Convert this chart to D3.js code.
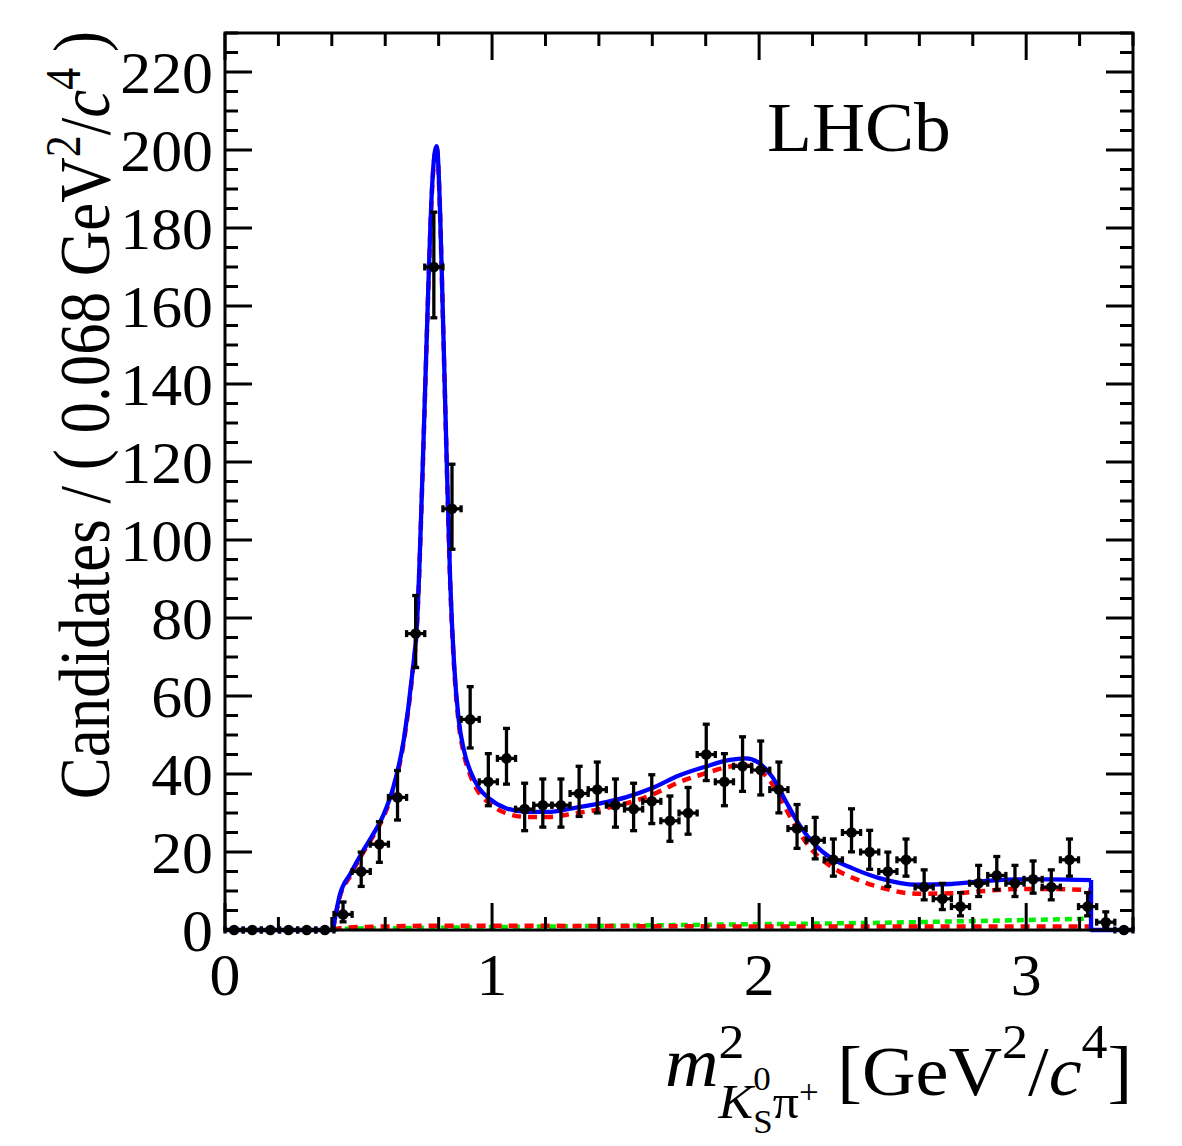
<!DOCTYPE html>
<html><head><meta charset="utf-8">
<script src="https://cdn.jsdelivr.net/npm/d3@7"></script>
<style>body{margin:0;background:#fff} svg{display:block}</style>
</head><body><svg id="c" width="1182" height="1146"></svg>
<script>
// ---- data ----
const binWidth = 0.068;
const counts = [0,0,0,0,0,0,4,15,22,34,76,170,108,54,38,44,31,32,32,35,36,32,31,33,28,30,45,38,42,41,36,26,23,18,25,20,15,18,11,8,6,12,14,12,13,11,18,6,2,0];

const fitX     = [0.404,0.43,0.47,0.51,0.55,0.59,0.63,0.67,0.70,0.72,0.74,0.76,0.775,0.787,0.793,0.805,0.815,0.828,0.843,0.858,0.875,0.895,0.92,0.95,0.99,1.05,1.13,1.22,1.30,1.40,1.50,1.60,1.70,1.80,1.89,1.95,2.00,2.05,2.10,2.15,2.20,2.28,2.35,2.45,2.59,2.72,2.84,2.97,3.09,3.243];
const totalFit = [0,9,14.5,19.5,24,29,36.5,49,65,80,118,162,190,200,201,185,160,126,90,68,54,46,40.5,36.5,33.7,31.3,30.3,30.3,31.2,32.4,34,36.4,39.6,41.9,43.6,44,42.8,39.2,33,27,22.5,18,15.8,13.3,11.6,11.8,12.5,13,13,12.8];
const signalFit= [0,8.5,14,19,23.5,28.5,36,48.5,64.5,79.5,117.5,161.5,189.5,199.5,200.5,184.5,159.5,125.5,89.3,67.2,53.1,45,39.4,35.3,32.5,30,29,29,29.8,30.9,32.4,34.7,37.9,40.2,41.9,42.2,41,37.4,31.1,25,20.4,15.8,13.4,11,9.3,9.4,10,10.5,10.5,10.2];

const bkgX     = [0.404,0.8,1.2,1.6,2.0,2.4,2.8,3.243];
const bkgGreen = [0.3,0.6,0.9,1.2,1.5,1.8,2.3,2.9];

const otherX   = [0.404,0.45,0.6,0.8,1.0,1.5,2.0,2.5,3.0,3.243];
const otherRed = [0,0.6,0.9,1.1,1.1,1.0,0.9,0.9,0.9,0.9];

const xMajorTicks = [0,1,2,3];
const yMajorTicks = [0,20,40,60,80,100,120,140,160,180,200,220];

// ---- layout ----
const svg = d3.select('#c');
const L = 225, R = 1133, T = 33, B = 930;
const x = d3.scaleLinear().domain([0,3.4]).range([L,R]);
const y = d3.scaleLinear().domain([0,230]).range([B,T]);
const font = '"Liberation Serif","Times New Roman",Times,serif';

// ---- curves ----
const smooth = d3.line().x(d=>x(d[0])).y(d=>y(d[1])).curve(d3.curveMonotoneX);
const straight = d3.line().x(d=>x(d[0])).y(d=>y(d[1]));

const plot = svg.append('g');
plot.append('path').attr('d', smooth(bkgX.map((v,i)=>[v,bkgGreen[i]])) )
  .attr('fill','none').attr('stroke','#00ee00').attr('stroke-width',4.5).attr('stroke-dasharray','7,5');
plot.append('path').attr('d', smooth(otherX.map((v,i)=>[v,otherRed[i]])) )
  .attr('fill','none').attr('stroke','#ff0000').attr('stroke-width',4.5).attr('stroke-dasharray','9,7');
const sigPts = fitX.map((v,i)=>[v,signalFit[i]]);
plot.append('path').attr('d', smooth(sigPts))
  .attr('fill','none').attr('stroke','#ff0000').attr('stroke-width',4.5).attr('stroke-dasharray','9,7');
const totPts = fitX.map((v,i)=>[v,totalFit[i]]);
const lastX = fitX[fitX.length-1], lastY = totalFit[totalFit.length-1];
const bluePath = straight([[0,0],[fitX[0],0]]) + smooth(totPts) + straight([[lastX,lastY],[lastX,0],[3.4,0]]);
plot.append('path').attr('d', bluePath)
  .attr('fill','none').attr('stroke','#0000ff').attr('stroke-width',4.3).attr('stroke-linejoin','round');

// ---- data points ----
const pts = svg.append('g').attr('stroke','#000').attr('stroke-width',3.3);
counts.forEach((n,i)=>{
  const cx = (i+0.5)*binWidth;
  const px = x(cx), py = y(n);
  const x0 = x(i*binWidth), x1 = x((i+1)*binWidth);
  pts.append('line').attr('x1',x0).attr('x2',x1).attr('y1',py).attr('y2',py);
  pts.append('line').attr('x1',x0).attr('x2',x0).attr('y1',py-3.5).attr('y2',py+3.5);
  pts.append('line').attr('x1',x1).attr('x2',x1).attr('y1',py-3.5).attr('y2',py+3.5);
  if (n>0){
    const up = Math.sqrt(n+0.75)+1;
    const lo = n - n*Math.pow(1-1/(9*n)-1/(3*Math.sqrt(n)),3);
    const yt = y(n+up), yb = y(n-lo);
    pts.append('line').attr('x1',px).attr('x2',px).attr('y1',yt).attr('y2',yb);
    pts.append('line').attr('x1',px-3.5).attr('x2',px+3.5).attr('y1',yt).attr('y2',yt);
    pts.append('line').attr('x1',px-3.5).attr('x2',px+3.5).attr('y1',yb).attr('y2',yb);
  }
  pts.append('circle').attr('cx',px).attr('cy',py).attr('r',5.3).attr('fill','#000').attr('stroke','none');
});

// ---- frame and ticks ----
const ax = svg.append('g').attr('stroke','#000').attr('stroke-width',3).attr('fill','none');
ax.append('rect').attr('x',L).attr('y',T).attr('width',R-L).attr('height',B-T);
d3.range(0, 3.4001, 0.2).forEach(v=>{
  const major = xMajorTicks.some(t=>Math.abs(t-v)<1e-6);
  const len = major ? 27 : 13;
  ax.append('line').attr('x1',x(v)).attr('x2',x(v)).attr('y1',B).attr('y2',B-len);
  ax.append('line').attr('x1',x(v)).attr('x2',x(v)).attr('y1',T).attr('y2',T+len);
});
d3.range(0, 230.001, 5).forEach(v=>{
  const major = yMajorTicks.includes(v);
  const len = major ? 27 : 13;
  ax.append('line').attr('y1',y(v)).attr('y2',y(v)).attr('x1',L).attr('x2',L+len);
  ax.append('line').attr('y1',y(v)).attr('y2',y(v)).attr('x1',R).attr('x2',R-len);
});

// ---- tick labels ----
const tl = svg.append('g').attr('font-family',font).attr('font-size',60).attr('fill','#000');
yMajorTicks.forEach(v=>{
  tl.append('text').attr('transform',`translate(213,${y(v)}) scale(1.03,1)`).attr('dy','0.35em').attr('text-anchor','end').text(v);
});
xMajorTicks.forEach(v=>{
  tl.append('text').attr('transform',`translate(${x(v)},995) scale(1.03,1)`).attr('text-anchor','middle').text(v);
});

// ---- axis titles ----
const yt = svg.append('text').attr('font-family',font).attr('font-size',63)
  .attr('text-anchor','end').attr('transform','translate(109,31) rotate(-90) scale(1,1.15)');
yt.append('tspan').text('Candidates / ');
yt.append('tspan').attr('dy',-5).text('(');
yt.append('tspan').attr('dy',5).text(' 0.068 GeV');
yt.append('tspan').attr('font-size',44).attr('dy',-25).text('2');
yt.append('tspan').attr('dy',25).text('/');
yt.append('tspan').attr('font-style','italic').text('c');
yt.append('tspan').attr('font-size',44).attr('dy',-25).text('4');
yt.append('tspan').attr('dy',25).text(' ');
yt.append('tspan').attr('dy',-5).text(')');

const xt = svg.append('text').attr('font-family',font).attr('font-size',70)
  .attr('transform','translate(665,1086) scale(1.06,1)');
xt.append('tspan').attr('font-style','italic').text('m');
xt.append('tspan').attr('font-size',49).attr('dy',-28).text('2');
xt.append('tspan').attr('font-size',49).attr('font-style','italic').attr('dx',-24.5).attr('dy',60).text('K');
xt.append('tspan').attr('font-size',33).attr('dy',-28).text('0');
xt.append('tspan').attr('font-size',33).attr('dx',-16.5).attr('dy',43).text('S');
xt.append('tspan').attr('font-size',49).attr('dy',-15).text('π');
xt.append('tspan').attr('font-size',33).attr('dy',-15).text('+');
xt.append('tspan').attr('dy',-8).text(' [GeV');
xt.append('tspan').attr('font-size',49).attr('dy',-37).text('2');
xt.append('tspan').attr('dy',37).text('/');
xt.append('tspan').attr('font-style','italic').text('c');
xt.append('tspan').attr('font-size',49).attr('dy',-37).text('4');
xt.append('tspan').attr('dy',37).text(']');

// ---- LHCb label ----
svg.append('text').attr('font-family',font).attr('font-size',70)
  .attr('transform','translate(767,151) scale(1.05,1)').text('LHCb');
</script></body></html>
